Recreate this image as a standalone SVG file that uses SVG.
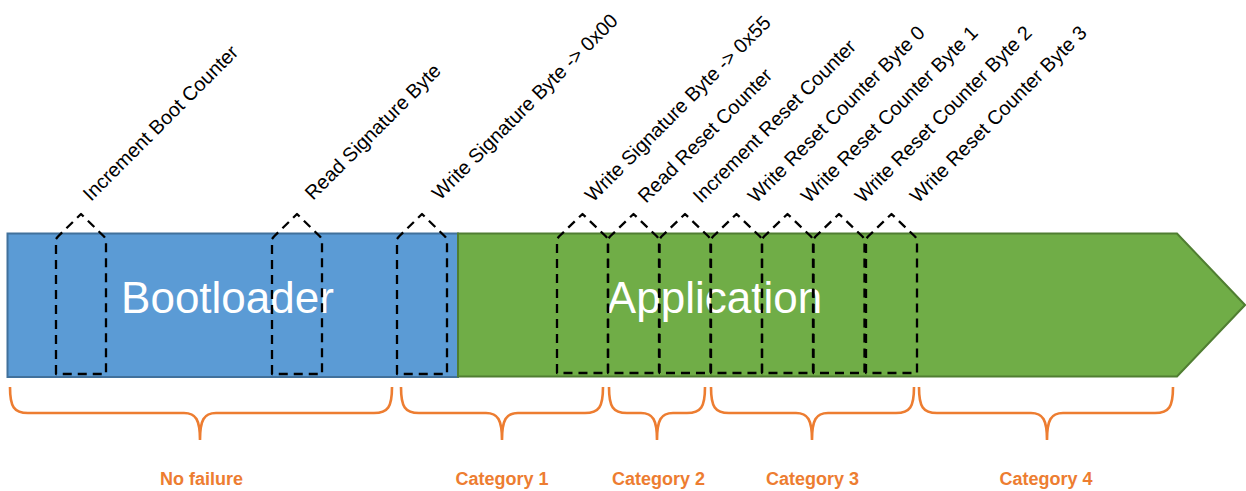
<svg xmlns="http://www.w3.org/2000/svg" width="1246" height="491" viewBox="0 0 1246 491">
<style>
.lbl{font-family:"Liberation Sans",Arial,sans-serif;font-size:19.8px;fill:#000}
.big{font-family:"Liberation Sans",Arial,sans-serif;font-size:44px;fill:#fff;text-anchor:middle}
.cat{font-family:"Liberation Sans",Arial,sans-serif;font-size:18px;font-weight:bold;fill:#ED7D31;text-anchor:middle}
.box{fill:none;stroke:#000;stroke-width:2.3;stroke-dasharray:9 6;stroke-linejoin:round}
.brace{fill:none;stroke:#ED7D31;stroke-width:2.6;stroke-linecap:butt}
</style>
<rect width="1246" height="491" fill="#fff"/>
<g id="bootloader">
<rect x="7.5" y="233.5" width="450.5" height="143.5" fill="#5B9BD5" stroke="#41719C" stroke-width="2"/>
<text class="big" x="227.5" y="313">Bootloader</text>
</g>
<g id="application">
<path d="M458,233.5 H1177 L1245,305 L1177,376.5 H458 Z" fill="#70AD47" stroke="#507E32" stroke-width="2"/>
<text class="big" x="714.5" y="313">Application</text>
</g>
<g id="operations">
<g id="op1"><path class="box" d="M56,374 V239 L58,236.5 L81,214 L104,236.5 L106,239 V374 Z"/><text class="lbl" x="91" y="202" transform="rotate(-45 91 202)">Increment Boot Counter</text></g>
<g id="op2"><path class="box" d="M272,374 V239 L274,236.5 L297,214 L320,236.5 L322,239 V374 Z"/><text class="lbl" x="313" y="201" transform="rotate(-45 313 201)">Read Signature Byte</text></g>
<g id="op3"><path class="box" d="M397,374 V239 L399,236.5 L422,214 L445,236.5 L447,239 V374 Z"/><text class="lbl" x="440" y="201" transform="rotate(-45 440 201)">Write Signature Byte -&gt; 0x00</text></g>
<g id="op4"><path class="box" d="M557,373 V239 L559,236.5 L582.5,214 L606,236.5 L608,239 V373 Z"/><text class="lbl" x="593" y="203" transform="rotate(-45 593 203)">Write Signature Byte -&gt; 0x55</text></g>
<g id="op5"><path class="box" d="M608,373 V239 L610,236.5 L633.5,214 L657,236.5 L659,239 V373 Z"/><text class="lbl" x="646" y="204" transform="rotate(-45 646 204)">Read Reset Counter</text></g>
<g id="op6"><path class="box" d="M659.5,373 V239 L661.5,236.5 L685,214 L708.5,236.5 L710.5,239 V373 Z"/><text class="lbl" x="701" y="204" transform="rotate(-45 701 204)">Increment Reset Counter</text></g>
<g id="op7"><path class="box" d="M711,373 V239 L713,236.5 L736.5,214 L760,236.5 L762,239 V373 Z"/><text class="lbl" x="756" y="204" transform="rotate(-45 756 204)">Write Reset Counter Byte 0</text></g>
<g id="op8"><path class="box" d="M762,373 V239 L764,236.5 L787.5,214 L811,236.5 L813,239 V373 Z"/><text class="lbl" x="809" y="204" transform="rotate(-45 809 204)">Write Reset Counter Byte 1</text></g>
<g id="op9"><path class="box" d="M813.5,373 V239 L815.5,236.5 L839,214 L862.5,236.5 L864.5,239 V373 Z"/><text class="lbl" x="863" y="204" transform="rotate(-45 863 204)">Write Reset Counter Byte 2</text></g>
<g id="op10"><path class="box" d="M866,373 V239 L868,236.5 L891.5,214 L915,236.5 L917,239 V373 Z"/><text class="lbl" x="918" y="204" transform="rotate(-45 918 204)">Write Reset Counter Byte 3</text></g>
</g>
<g id="braces">
<path class="brace" d="M10,387 C10,407 14,413 28,413 H184 C196,413 200,420 200,440 C200,420 204,413 216,413 H374 C388,413 392,407 392,387"/>
<path class="brace" d="M401,387 C401,407 405,413 419,413 H486 C498,413 502,420 502,440 C502,420 506,413 518,413 H585 C599,413 603,407 603,387"/>
<path class="brace" d="M609,387 C609,407 613,413 627,413 H641 C653,413 657,420 657,440 C657,420 661,413 673,413 H687 C701,413 705,407 705,387"/>
<path class="brace" d="M711,387 C711,407 715,413 729,413 H796 C808,413 812,420 812,440 C812,420 816,413 828,413 H896 C910,413 914,407 914,387"/>
<path class="brace" d="M919,387 C919,407 923,413 937,413 H1031 C1043,413 1047,420 1047,440 C1047,420 1051,413 1063,413 H1155 C1169,413 1173,407 1173,387"/>
</g>
<g id="categories">
<text class="cat" x="201.5" y="485">No failure</text>
<text class="cat" x="502" y="485">Category 1</text>
<text class="cat" x="658.5" y="485">Category 2</text>
<text class="cat" x="812.5" y="485">Category 3</text>
<text class="cat" x="1046" y="485">Category 4</text>
</g>
</svg>
